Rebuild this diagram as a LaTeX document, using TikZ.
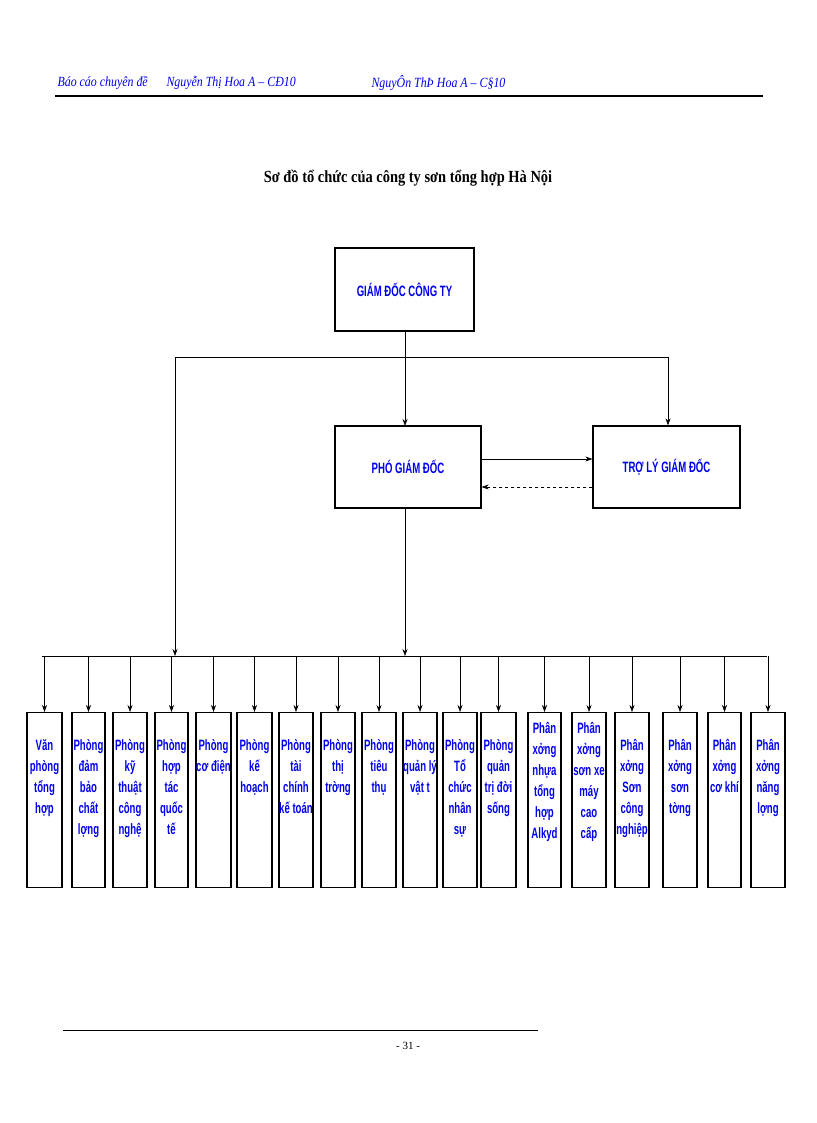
\documentclass[tikz,border=0pt]{standalone}
\usepackage{fontspec}
\setmainfont{Liberation Serif}
\newfontfamily\boxfont[FakeStretch=0.64]{Liberation Sans}
\newfontfamily\titlefont[FakeStretch=0.85]{Liberation Serif}
\usetikzlibrary{arrows.meta}
\definecolor{txtblue}{RGB}{0,0,235}
\tikzset{
  bigbox/.style={draw, line width=1.2pt, font=\boxfont\bfseries\fontsize{15}{17}\selectfont, text=txtblue, inner sep=0pt},
  arr/.style={-{Stealth[length=7pt,width=5pt]}, line width=0.6pt},
  ln/.style={line width=0.6pt}
}
\begin{document}
\begin{tikzpicture}[x=1pt,y=-1pt]
\useasboundingbox (0,0) rectangle (816,1123);
% header
\node[anchor=west, text=txtblue, font=\titlefont\itshape\fontsize{14}{15}\selectfont] (h1) at (54,83) {Báo cáo chuyên đề};
\node[anchor=west, text=txtblue, font=\titlefont\itshape\fontsize{14}{15}\selectfont] (h2) at (163,83) {Nguyễn Thị Hoa A – CĐ10};
\node[anchor=west, text=txtblue, font=\titlefont\itshape\fontsize{14}{15}\selectfont] (h3) at (368,83) {NguyÔn ThÞ Hoa A – C§10};
\draw[line width=1.4pt] (55,96) -- (763,96);
\node[font=\titlefont\bfseries\fontsize{17}{19}\selectfont] (title) at (408,178) {Sơ đồ tổ chức của công ty sơn tổng hợp Hà Nội};
% top boxes
\node[bigbox, minimum width=139pt, minimum height=83pt] (gd) at (404.5,289.5) {GIÁM ĐỐC CÔNG TY};
\node[bigbox, minimum width=146pt, minimum height=82pt] (pgd) at (408,467) {PHÓ GIÁM ĐỐC};
\node[bigbox, minimum width=147pt, minimum height=82pt] (tl) at (666.5,467) {TRỢ LÝ GIÁM ĐỐC};
\coordinate (j) at (405,357);
\coordinate (jl) at (175,357);
\coordinate (jr) at (668,357);
\draw[ln] (gd.south -| j) -- (j);
\draw[ln] (jl) -- (jr);
\draw[arr] (j) -- (405,426);
\draw[arr] (jr) -- (tl.north -| jr);
\draw[arr] (pgd.east |- 0,459) -- (tl.west |- 0,459);
\draw[arr, dashed, line width=0.5pt] (tl.west |- 0,487) -- (pgd.east |- 0,487);
% bus
\coordinate (bl) at (42,656);
\coordinate (br) at (767,656);
\draw[ln] (bl) -- (br);
\draw[arr] (jl) -- (175,656);
\draw[arr] (405,508) -- (405,656);
% departments
\foreach \i/\xa/\xb/\txt in {
 1/27/62/{Văn\\phòng\\tổng\\hợp},
 2/72/105/{Phòng\\đảm\\bảo\\chất\\lợng},
 3/113/147/{Phòng\\kỹ\\thuật\\công\\nghệ},
 4/155/188/{Phòng\\hợp\\tác\\quốc\\tế},
 5/196/231/{Phòng\\cơ điện},
 6/237/272/{Phòng\\kế\\hoạch},
 7/279/313/{Phòng\\tài\\chính\\kế toán},
 8/321/355/{Phòng\\thị\\trờng},
 9/362/396/{Phòng\\tiêu\\thụ},
 10/403/437/{Phòng\\quản lý\\vật t},
 11/443/477/{Phòng\\Tổ\\chức\\nhân\\sự},
 12/481/516/{Phòng\\quản\\trị đời\\sống},
 13/528/561/{Phân\\xởng\\nhựa\\tổng\\hợp\\Alkyd},
 14/572/606/{Phân\\xởng\\sơn xe\\máy\\cao\\cấp},
 15/615/649/{Phân\\xởng\\Sơn\\công\\nghiệp},
 16/663/697/{Phân\\xởng\\sơn\\tờng},
 17/708/741/{Phân\\xởng\\cơ khí},
 18/751/785/{Phân\\xởng\\năng\\lợng}}{
  \node[draw, line width=1.2pt, minimum width=\xb pt-\xa pt, minimum height=175pt, anchor=north, inner sep=0pt] (d\i) at ({(\xa+\xb)/2},712) {};
  \node[font=\boxfont\bfseries\fontsize{15}{21}\selectfont, text=txtblue, align=center, anchor=north, inner sep=0pt] (t\i) at ({(\xa+\xb)/2},{\i>12 && \i<15 ? 722 : 739}) {\txt};
  \draw[arr] ({(\xa+\xb)/2},656) -- (d\i.north);
}
% footer
\draw[line width=1pt] (63,1030) -- (538,1030);
\node[font=\fontsize{11}{13}\selectfont] (pg) at (408,1046) {- 31 -};
\end{tikzpicture}
\end{document}
